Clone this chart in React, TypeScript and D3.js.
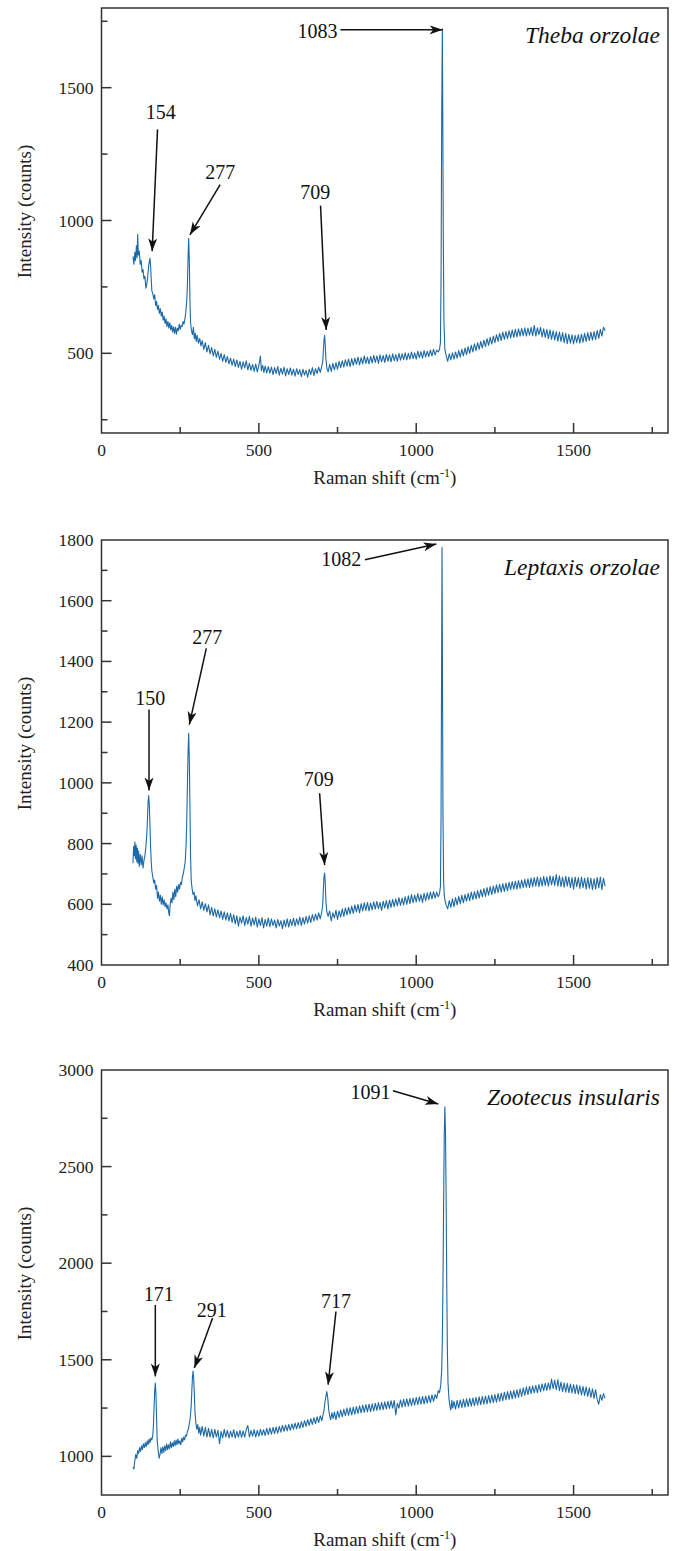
import React from "react";
import * as d3 from "d3";

type Pt = [number, number];

// spectra: [Raman shift (cm-1), intensity (counts)]
const thebaSpectrum: Pt[] = [
  [100, 865], [103, 835], [106, 880], [108, 850], [111, 905], [113, 860], [115, 948], [117, 870],
  [120, 885], [123, 835], [126, 850], [129, 805], [132, 815], [135, 780], [138, 790], [141, 745],
  [144, 760], [147, 790], [150, 830], [152, 845], [154, 858], [156, 830], [158, 780], [160, 735],
  [163, 725], [166, 705], [169, 720], [172, 680], [175, 695], [178, 665], [181, 680], [184, 650],
  [187, 668], [190, 640], [193, 655], [196, 625], [199, 640], [202, 612], [205, 630], [208, 600],
  [211, 620], [214, 595], [217, 615], [220, 588], [223, 605], [226, 580], [229, 600], [232, 575],
  [235, 598], [238, 572], [241, 595], [244, 585], [247, 610], [250, 590], [253, 605], [256, 600],
  [259, 620], [262, 610], [265, 630], [268, 655], [271, 700], [273, 760], [275, 860], [277, 932],
  [279, 850], [281, 700], [283, 615], [286, 585], [289, 570], [292, 598], [295, 555], [298, 575],
  [301, 545], [304, 568], [308, 538], [312, 556], [316, 528], [320, 548], [325, 515], [330, 540],
  [335, 505], [340, 530], [345, 498], [350, 522], [355, 490], [360, 515], [365, 485], [370, 508],
  [375, 478], [380, 500], [385, 470], [390, 495], [395, 466], [400, 488], [405, 460], [410, 482],
  [415, 455], [420, 478], [425, 450], [430, 475], [435, 447], [440, 470], [445, 440], [450, 468],
  [455, 445], [460, 472], [465, 438], [470, 462], [475, 436], [480, 458], [485, 432], [490, 460],
  [495, 430], [500, 455], [505, 490], [508, 435], [512, 455], [516, 428], [520, 452], [525, 426],
  [530, 450], [535, 425], [540, 448], [545, 420], [550, 446], [555, 424], [560, 450], [565, 418],
  [570, 444], [575, 422], [580, 448], [585, 415], [590, 442], [595, 420], [600, 445], [605, 418],
  [610, 440], [615, 414], [620, 442], [625, 420], [630, 438], [635, 412], [640, 440], [645, 418],
  [650, 436], [655, 410], [660, 440], [665, 420], [670, 446], [675, 416], [680, 442], [685, 424],
  [690, 448], [695, 428], [700, 452], [703, 470], [705, 510], [707, 550], [709, 568], [711, 530],
  [713, 480], [716, 445], [720, 430], [725, 458], [730, 432], [735, 462], [740, 438], [745, 465],
  [750, 440], [755, 470], [760, 446], [765, 472], [770, 448], [775, 476], [780, 452], [785, 478],
  [790, 450], [795, 480], [800, 455], [805, 482], [810, 458], [815, 486], [820, 456], [825, 484],
  [830, 460], [835, 490], [840, 462], [845, 486], [850, 460], [855, 488], [860, 464], [865, 492],
  [870, 466], [875, 490], [880, 462], [885, 494], [890, 468], [895, 492], [900, 466], [905, 496],
  [910, 470], [915, 494], [920, 468], [925, 498], [930, 472], [935, 495], [940, 470], [945, 500],
  [950, 474], [955, 498], [960, 476], [965, 502], [970, 475], [975, 500], [980, 478], [985, 505],
  [990, 480], [995, 502], [1000, 478], [1005, 508], [1010, 484], [1015, 506], [1020, 482], [1025, 510],
  [1030, 486], [1035, 508], [1040, 488], [1045, 512], [1050, 490], [1055, 515], [1060, 494], [1065, 512],
  [1070, 505], [1074, 515], [1077, 540], [1079, 800], [1081, 1400], [1083, 1722], [1084, 1500], [1086, 950],
  [1088, 620], [1091, 515], [1095, 492], [1100, 470], [1105, 498], [1110, 475], [1115, 502], [1120, 478],
  [1125, 505], [1130, 482], [1135, 510], [1140, 486], [1145, 515], [1150, 490], [1155, 520], [1160, 495],
  [1165, 525], [1170, 500], [1175, 530], [1180, 505], [1185, 536], [1190, 510], [1195, 540], [1200, 515],
  [1205, 545], [1210, 520], [1215, 550], [1220, 525], [1225, 555], [1230, 530], [1235, 560], [1240, 535],
  [1245, 565], [1250, 540], [1255, 570], [1260, 545], [1265, 575], [1270, 548], [1275, 580], [1280, 552],
  [1285, 582], [1290, 555], [1295, 585], [1300, 558], [1305, 588], [1310, 560], [1315, 590], [1320, 562],
  [1325, 592], [1330, 565], [1335, 594], [1340, 566], [1345, 596], [1350, 565], [1355, 595], [1360, 568],
  [1365, 598], [1370, 566], [1375, 605], [1380, 565], [1385, 596], [1390, 570], [1395, 598], [1400, 562],
  [1405, 592], [1410, 560], [1415, 590], [1420, 555], [1425, 588], [1430, 552], [1435, 585], [1440, 550],
  [1445, 582], [1450, 546], [1455, 580], [1460, 545], [1465, 578], [1470, 540], [1475, 575], [1480, 536],
  [1485, 572], [1490, 538], [1495, 570], [1500, 535], [1505, 568], [1510, 540], [1515, 570], [1520, 538],
  [1525, 572], [1530, 542], [1535, 575], [1540, 545], [1545, 578], [1550, 548], [1555, 580], [1560, 550],
  [1565, 582], [1570, 552], [1575, 586], [1580, 556], [1585, 590], [1590, 565], [1595, 598], [1600, 585],
];

const leptaxisSpectrum: Pt[] = [
  [100, 735], [102, 790], [104, 760], [106, 805], [108, 750], [110, 795], [112, 740], [114, 785],
  [116, 735], [118, 775], [120, 725], [123, 765], [126, 730], [129, 760], [132, 720], [135, 745],
  [138, 760], [141, 790], [144, 830], [146, 880], [148, 935], [150, 958], [152, 925], [154, 860],
  [156, 790], [158, 740], [160, 710], [163, 690], [166, 670], [169, 680], [172, 650], [175, 662],
  [178, 620], [181, 640], [184, 610], [187, 630], [190, 600], [193, 625], [196, 598], [199, 615],
  [202, 592], [205, 605], [208, 585], [211, 598], [214, 570], [216, 562], [218, 595], [221, 620],
  [224, 605], [227, 640], [230, 615], [233, 650], [236, 625], [239, 660], [242, 640], [245, 665],
  [248, 650], [251, 672], [254, 665], [257, 690], [260, 700], [263, 720], [266, 740], [269, 800],
  [271, 880], [273, 990], [275, 1100], [277, 1163], [279, 1080], [281, 920], [283, 760], [285, 680],
  [288, 650], [291, 632], [294, 640], [297, 612], [300, 628], [305, 595], [310, 615], [315, 585],
  [320, 608], [325, 580], [330, 602], [335, 575], [340, 598], [345, 565], [350, 590], [355, 562],
  [360, 585], [365, 558], [370, 582], [375, 555], [380, 578], [385, 550], [390, 575], [395, 548],
  [400, 572], [405, 545], [410, 570], [415, 540], [420, 566], [425, 535], [430, 562], [435, 528],
  [440, 558], [445, 538], [450, 562], [455, 530], [460, 556], [465, 535], [470, 560], [475, 528],
  [480, 555], [485, 532], [490, 558], [495, 525], [500, 552], [505, 530], [510, 556], [515, 522],
  [520, 550], [525, 528], [530, 555], [535, 526], [540, 552], [545, 530], [550, 548], [555, 522],
  [560, 550], [565, 528], [570, 546], [575, 520], [580, 548], [585, 526], [590, 552], [595, 525],
  [600, 550], [605, 530], [610, 554], [615, 528], [620, 552], [625, 532], [630, 558], [635, 530],
  [640, 556], [645, 535], [650, 560], [655, 538], [660, 562], [665, 540], [670, 566], [675, 545],
  [680, 568], [685, 548], [690, 572], [695, 552], [700, 575], [703, 600], [705, 650], [707, 690],
  [709, 703], [711, 670], [713, 610], [716, 575], [720, 560], [725, 578], [730, 545], [735, 572],
  [740, 555], [745, 580], [750, 550], [755, 578], [760, 558], [765, 585], [770, 560], [775, 588],
  [780, 565], [785, 590], [790, 568], [795, 594], [800, 570], [805, 598], [810, 575], [815, 600],
  [820, 572], [825, 602], [830, 578], [835, 605], [840, 580], [845, 606], [850, 578], [855, 604],
  [860, 582], [865, 608], [870, 584], [875, 610], [880, 586], [885, 606], [890, 580], [895, 610],
  [900, 588], [905, 612], [910, 585], [915, 614], [920, 590], [925, 616], [930, 592], [935, 618],
  [940, 595], [945, 622], [950, 596], [955, 620], [960, 598], [965, 625], [970, 600], [975, 628],
  [980, 602], [985, 632], [990, 605], [995, 630], [1000, 608], [1005, 635], [1010, 610], [1015, 632],
  [1020, 606], [1025, 636], [1030, 612], [1035, 638], [1040, 615], [1045, 640], [1050, 618], [1055, 642],
  [1060, 620], [1065, 640], [1070, 625], [1074, 635], [1077, 660], [1079, 900], [1081, 1500], [1082, 1775],
  [1083, 1500], [1085, 900], [1087, 680], [1089, 630], [1092, 610], [1095, 598], [1100, 585], [1105, 612],
  [1110, 590], [1115, 618], [1120, 592], [1125, 622], [1130, 598], [1135, 626], [1140, 602], [1145, 630],
  [1150, 605], [1155, 632], [1160, 610], [1165, 636], [1170, 612], [1175, 640], [1180, 615], [1185, 642],
  [1190, 618], [1195, 645], [1200, 620], [1205, 648], [1210, 624], [1215, 652], [1220, 626], [1225, 655],
  [1230, 630], [1235, 658], [1240, 632], [1245, 660], [1250, 636], [1255, 664], [1260, 638], [1265, 666],
  [1270, 640], [1275, 668], [1280, 642], [1285, 670], [1290, 645], [1295, 672], [1300, 648], [1305, 675],
  [1310, 650], [1315, 676], [1320, 650], [1325, 678], [1330, 652], [1335, 680], [1340, 655], [1345, 682],
  [1350, 656], [1355, 684], [1360, 655], [1365, 686], [1370, 658], [1375, 688], [1380, 660], [1385, 690],
  [1390, 658], [1395, 688], [1400, 660], [1405, 692], [1410, 662], [1415, 690], [1420, 660], [1425, 694],
  [1430, 664], [1435, 692], [1440, 662], [1445, 698], [1450, 660], [1455, 694], [1460, 658], [1465, 690],
  [1470, 656], [1475, 692], [1480, 660], [1485, 690], [1490, 655], [1495, 688], [1500, 650], [1505, 690],
  [1510, 658], [1515, 688], [1520, 652], [1525, 690], [1530, 655], [1535, 686], [1540, 650], [1545, 688],
  [1550, 652], [1555, 686], [1560, 648], [1565, 684], [1570, 650], [1575, 688], [1580, 654], [1585, 690],
  [1590, 648], [1595, 686], [1600, 660],
];

const zootecusSpectrum: Pt[] = [
  [100, 945], [103, 935], [106, 980], [109, 1010], [112, 990], [115, 1030], [118, 1015], [121, 1045],
  [124, 1025], [127, 1055], [130, 1035], [133, 1065], [136, 1045], [139, 1070], [142, 1050], [145, 1080],
  [148, 1060], [151, 1090], [154, 1070], [157, 1095], [160, 1085], [163, 1110], [165, 1160], [167, 1250],
  [169, 1340], [171, 1380], [173, 1320], [175, 1200], [177, 1080], [180, 1030], [183, 990], [186, 1010],
  [189, 1045], [192, 1015], [195, 1050], [198, 1020], [201, 1055], [204, 1030], [207, 1065], [210, 1035],
  [213, 1060], [216, 1040], [219, 1075], [222, 1045], [225, 1070], [228, 1050], [231, 1080], [234, 1055],
  [237, 1085], [240, 1060], [243, 1090], [246, 1065], [249, 1080], [252, 1060], [255, 1095], [258, 1075],
  [261, 1100], [264, 1085], [267, 1110], [270, 1105], [273, 1130], [276, 1140], [279, 1170], [282, 1200],
  [285, 1260], [287, 1340], [289, 1410], [291, 1442], [293, 1400], [295, 1320], [297, 1230], [300, 1170],
  [303, 1140], [306, 1165], [309, 1120], [312, 1150], [315, 1110], [320, 1155], [325, 1105], [330, 1150],
  [335, 1100], [340, 1145], [345, 1100], [350, 1140], [355, 1095], [360, 1140], [365, 1100], [370, 1135],
  [375, 1065], [380, 1130], [385, 1095], [390, 1140], [395, 1100], [400, 1135], [405, 1095], [410, 1130],
  [415, 1100], [420, 1138], [425, 1095], [430, 1130], [435, 1100], [440, 1135], [445, 1098], [450, 1132],
  [455, 1100], [460, 1140], [465, 1160], [470, 1100], [475, 1135], [480, 1105], [485, 1138], [490, 1100],
  [495, 1135], [500, 1105], [505, 1140], [510, 1110], [515, 1138], [520, 1108], [525, 1145], [530, 1112],
  [535, 1148], [540, 1115], [545, 1150], [550, 1118], [555, 1152], [560, 1120], [565, 1155], [570, 1125],
  [575, 1160], [580, 1130], [585, 1162], [590, 1132], [595, 1165], [600, 1135], [605, 1168], [610, 1140],
  [615, 1172], [620, 1142], [625, 1175], [630, 1145], [635, 1180], [640, 1150], [645, 1185], [650, 1155],
  [655, 1190], [660, 1160], [665, 1195], [670, 1165], [675, 1200], [680, 1170], [685, 1205], [690, 1175],
  [695, 1210], [700, 1185], [704, 1215], [707, 1240], [710, 1280], [713, 1310], [716, 1335], [719, 1300],
  [722, 1240], [725, 1210], [728, 1190], [732, 1225], [736, 1195], [740, 1230], [745, 1190], [750, 1235],
  [755, 1200], [760, 1240], [765, 1205], [770, 1245], [775, 1210], [780, 1250], [785, 1212], [790, 1252],
  [795, 1215], [800, 1255], [805, 1218], [810, 1258], [815, 1222], [820, 1262], [825, 1225], [830, 1265],
  [835, 1228], [840, 1268], [845, 1230], [850, 1270], [855, 1232], [860, 1272], [865, 1235], [870, 1275],
  [875, 1238], [880, 1278], [885, 1240], [890, 1280], [895, 1242], [900, 1282], [905, 1245], [910, 1285],
  [915, 1248], [920, 1288], [925, 1250], [930, 1290], [935, 1215], [940, 1275], [945, 1250], [950, 1292],
  [955, 1255], [960, 1295], [965, 1258], [970, 1298], [975, 1260], [980, 1300], [985, 1262], [990, 1302],
  [995, 1265], [1000, 1305], [1005, 1268], [1010, 1308], [1015, 1270], [1020, 1310], [1025, 1272], [1030, 1312],
  [1035, 1275], [1040, 1315], [1045, 1278], [1050, 1318], [1055, 1285], [1060, 1320], [1065, 1300], [1070, 1340],
  [1074, 1330], [1078, 1370], [1081, 1450], [1083, 1600], [1085, 1900], [1087, 2300], [1089, 2650], [1091, 2810],
  [1093, 2680], [1095, 2350], [1097, 1900], [1099, 1550], [1101, 1380], [1104, 1300], [1107, 1260], [1110, 1240],
  [1113, 1290], [1116, 1250], [1120, 1285], [1125, 1245], [1130, 1290], [1135, 1250], [1140, 1292], [1145, 1252],
  [1150, 1295], [1155, 1255], [1160, 1298], [1165, 1258], [1170, 1300], [1175, 1260], [1180, 1302], [1185, 1262],
  [1190, 1305], [1195, 1265], [1200, 1308], [1205, 1268], [1210, 1310], [1215, 1270], [1220, 1312], [1225, 1272],
  [1230, 1315], [1235, 1275], [1240, 1318], [1245, 1278], [1250, 1320], [1255, 1280], [1260, 1325], [1265, 1285],
  [1270, 1328], [1275, 1288], [1280, 1332], [1285, 1292], [1290, 1335], [1295, 1295], [1300, 1338], [1305, 1298],
  [1310, 1342], [1315, 1302], [1320, 1345], [1325, 1305], [1330, 1350], [1335, 1310], [1340, 1355], [1345, 1315],
  [1350, 1360], [1355, 1320], [1360, 1362], [1365, 1325], [1370, 1365], [1375, 1328], [1380, 1368], [1385, 1330],
  [1390, 1372], [1395, 1335], [1400, 1375], [1405, 1340], [1410, 1378], [1415, 1342], [1420, 1380], [1425, 1345],
  [1430, 1400], [1435, 1350], [1440, 1395], [1445, 1345], [1450, 1398], [1455, 1340], [1460, 1385], [1465, 1335],
  [1470, 1380], [1475, 1332], [1480, 1378], [1485, 1330], [1490, 1375], [1495, 1328], [1500, 1372], [1505, 1325],
  [1510, 1370], [1515, 1322], [1520, 1365], [1525, 1318], [1530, 1362], [1535, 1315], [1540, 1360], [1545, 1310],
  [1550, 1355], [1555, 1305], [1560, 1350], [1565, 1300], [1570, 1345], [1575, 1295], [1580, 1270], [1585, 1320],
  [1590, 1290], [1595, 1325], [1600, 1300],
];

// axis ticks
const xMajorTicks = [0, 500, 1000, 1500];
const xMinorTicks = [250, 750, 1250, 1750];
const thebaYMajor = [500, 1000, 1500];
const thebaYMinor = [250, 750, 1250, 1750];
const leptaxisYMajor = [400, 600, 800, 1000, 1200, 1400, 1600, 1800];
const leptaxisYMinor = [500, 700, 900, 1100, 1300, 1500, 1700];
const zootecusYMajor = [1000, 1500, 2000, 2500, 3000];
const zootecusYMinor = [1250, 1750, 2250, 2750];

interface Note {
  label: string;
  text: Pt; // label centre, data coords
  from: Pt;
  to: Pt;
}

// peak annotations (data coordinates)
const thebaNotes: Note[] = [
  { label: "154", text: [188, 1409], from: [178, 1343], to: [161, 884] },
  { label: "277", text: [377, 1183], from: [377, 1135], to: [281, 946] },
  { label: "709", text: [679, 1106], from: [696, 1056], to: [714, 588] },
  { label: "1083", text: [686, 1714], from: [759, 1718], to: [1084, 1718] },
];
const leptaxisNotes: Note[] = [
  { label: "150", text: [155, 1281], from: [151, 1242], to: [151, 975] },
  { label: "277", text: [336, 1482], from: [333, 1443], to: [279, 1192] },
  { label: "709", text: [690, 1014], from: [693, 966], to: [709, 729] },
  { label: "1082", text: [762, 1739], from: [837, 1735], to: [1064, 1787] },
];
const zootecusNotes: Note[] = [
  { label: "171", text: [182, 1840], from: [171, 1784], to: [171, 1414] },
  { label: "291", text: [350, 1757], from: [353, 1716], to: [295, 1457] },
  { label: "717", text: [745, 1802], from: [745, 1750], to: [720, 1371] },
  { label: "1091", text: [855, 2888], from: [926, 2893], to: [1070, 2824] },
];

const frameLeft = 101.5;
const frameRight = 668;
const panelHeight = 425;
const lineColor = "#1d69a6";
const axisColor = "#333";
const serif = "'Liberation Serif', 'Times New Roman', serif";

interface PanelProps {
  id: string;
  top: number;
  species: string;
  spectrum: Pt[];
  yDomain: [number, number];
  yMajor: number[];
  yMinor: number[];
  notes: Note[];
}

const Panel: React.FC<PanelProps> = ({ id, top, species, spectrum, yDomain, yMajor, yMinor, notes }) => {
  const bottom = top + panelHeight;
  const x = d3.scaleLinear().domain([0, 1800]).range([frameLeft, frameRight]);
  const y = d3.scaleLinear().domain(yDomain).range([bottom, top]);
  const line = d3
    .line<Pt>()
    .x((d) => x(d[0]))
    .y((d) => y(d[1]));
  const markerId = `arrow-${id}`;

  return (
    <g>
      <defs>
        <marker
          id={markerId}
          markerUnits="userSpaceOnUse"
          markerWidth={14}
          markerHeight={10}
          refX={13}
          refY={4.5}
          orient="auto"
        >
          <path d="M0,0 L13,4.5 L0,9 L3.5,4.5 z" fill="#111" />
        </marker>
      </defs>

      {/* spectrum */}
      <path d={line(spectrum) || ""} fill="none" stroke={lineColor} strokeWidth={1.1} strokeLinejoin="round" />

      {/* frame */}
      <rect
        x={frameLeft}
        y={top}
        width={frameRight - frameLeft}
        height={panelHeight}
        fill="none"
        stroke={axisColor}
        strokeWidth={1.5}
      />

      {/* x ticks, inward */}
      {xMajorTicks.map((t) => (
        <g key={`xM${t}`}>
          {t > 0 && <line x1={x(t)} x2={x(t)} y1={bottom} y2={bottom - 10} stroke={axisColor} strokeWidth={1.5} />}
          <text x={x(t)} y={bottom + 23} textAnchor="middle" fontSize={17.5} fontFamily={serif} fill="#222">
            {t}
          </text>
        </g>
      ))}
      {xMinorTicks.map((t) => (
        <line key={`xm${t}`} x1={x(t)} x2={x(t)} y1={bottom} y2={bottom - 6} stroke={axisColor} strokeWidth={1.5} />
      ))}

      {/* y ticks, inward */}
      {yMajor.map((t) => (
        <g key={`yM${t}`}>
          {t !== yDomain[0] && t !== yDomain[1] && (
            <line x1={frameLeft} x2={frameLeft + 10} y1={y(t)} y2={y(t)} stroke={axisColor} strokeWidth={1.5} />
          )}
          <text
            x={frameLeft - 8}
            y={y(t)}
            textAnchor="end"
            dominantBaseline="central"
            fontSize={17.5}
            fontFamily={serif}
            fill="#222"
          >
            {t}
          </text>
        </g>
      ))}
      {yMinor.map((t) => (
        <line key={`ym${t}`} x1={frameLeft} x2={frameLeft + 6} y1={y(t)} y2={y(t)} stroke={axisColor} strokeWidth={1.5} />
      ))}

      {/* axis titles */}
      <text x={(frameLeft + frameRight) / 2} y={bottom + 51} textAnchor="middle" fontSize={19} fontFamily={serif} fill="#222">
        Raman shift (cm
        <tspan dy={-7} fontSize={12}>-1</tspan>
        <tspan dy={7}>)</tspan>
      </text>
      <text
        transform={`translate(24, ${top + panelHeight / 2 - 9}) rotate(-90)`}
        textAnchor="middle"
        dominantBaseline="central"
        fontSize={19}
        fontFamily={serif}
        fill="#222"
      >
        Intensity (counts)
      </text>

      {/* species name */}
      <text
        x={frameRight - 8}
        y={top + 35}
        textAnchor="end"
        fontSize={23.5}
        fontStyle="italic"
        fontFamily={serif}
        fill="#111"
      >
        {species}
      </text>

      {/* peak annotations */}
      {notes.map((n) => (
        <g key={n.label}>
          <line
            x1={x(n.from[0])}
            y1={y(n.from[1])}
            x2={x(n.to[0])}
            y2={y(n.to[1])}
            stroke="#111"
            strokeWidth={1.5}
            markerEnd={`url(#${markerId})`}
          />
          <text
            x={x(n.text[0])}
            y={y(n.text[1])}
            textAnchor="middle"
            dominantBaseline="central"
            fontSize={20}
            fontFamily={serif}
            fill="#111"
          >
            {n.label}
          </text>
        </g>
      ))}
    </g>
  );
};

export default function App() {
  return (
    <svg
      width={677}
      height={1551}
      style={{ position: "absolute", left: 0, top: 0, background: "#fff" }}
      role="img"
      aria-label="Raman spectra of three land snail shells"
    >
      <rect width={677} height={1551} fill="#fff" />
      <Panel
        id="theba"
        top={8}
        species="Theba orzolae"
        spectrum={thebaSpectrum}
        yDomain={[200, 1800]}
        yMajor={thebaYMajor}
        yMinor={thebaYMinor}
        notes={thebaNotes}
      />
      <Panel
        id="leptaxis"
        top={540}
        species="Leptaxis orzolae"
        spectrum={leptaxisSpectrum}
        yDomain={[400, 1800]}
        yMajor={leptaxisYMajor}
        yMinor={leptaxisYMinor}
        notes={leptaxisNotes}
      />
      <Panel
        id="zootecus"
        top={1070}
        species="Zootecus insularis"
        spectrum={zootecusSpectrum}
        yDomain={[800, 3000]}
        yMajor={zootecusYMajor}
        yMinor={zootecusYMinor}
        notes={zootecusNotes}
      />
    </svg>
  );
}
